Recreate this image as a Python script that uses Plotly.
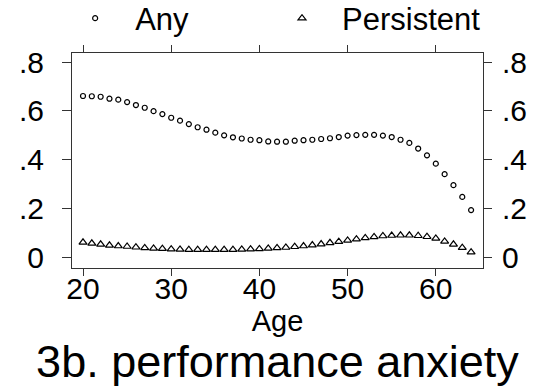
import plotly.graph_objects as go

# Age in years
ages = list(range(20, 65))

# Share reporting performance anxiety at each age
any_share = [
    0.661, 0.660, 0.658, 0.650, 0.646, 0.636, 0.624, 0.613, 0.599, 0.587,
    0.572, 0.560, 0.546, 0.533, 0.523, 0.511, 0.500, 0.492, 0.487, 0.482,
    0.480, 0.475, 0.474, 0.474, 0.478, 0.480, 0.482, 0.485, 0.488, 0.493,
    0.499, 0.501, 0.502, 0.502, 0.499, 0.493, 0.482, 0.469, 0.446, 0.418,
    0.384, 0.341, 0.296, 0.248, 0.194,
]
persistent_share = [
    0.062, 0.058, 0.054, 0.050, 0.047, 0.045, 0.042, 0.039, 0.037, 0.036,
    0.034, 0.033, 0.032, 0.032, 0.032, 0.032, 0.032, 0.032, 0.033, 0.034,
    0.035, 0.037, 0.039, 0.041, 0.044, 0.047, 0.051, 0.055, 0.060, 0.065,
    0.070, 0.075, 0.080, 0.084, 0.088, 0.090, 0.091, 0.091, 0.089, 0.085,
    0.078, 0.066, 0.054, 0.040, 0.022,
]

x_ticks = [20, 30, 40, 50, 60]
y_ticks = [0, 0.2, 0.4, 0.6, 0.8]
y_tick_labels = ["0", ".2", ".4", ".6", ".8"]

FONT = "Liberation Sans, Arial, sans-serif"
INK = "#000000"

fig = go.Figure()
fig.add_trace(go.Scatter(
    x=ages, y=any_share, name="Any", mode="markers", legend="legend",
    marker=dict(symbol="circle-open", size=5, color=INK, line=dict(width=1.2)),
))
fig.add_trace(go.Scatter(
    x=ages, y=persistent_share, name="Persistent", mode="markers", yaxis="y2",
    legend="legend2",
    marker=dict(symbol="triangle-up-open", size=7, color=INK, line=dict(width=1.2)),
))

y_range = [-0.043, 0.837]
axis_common = dict(
    showline=True, linecolor="#333333", linewidth=1,
    ticks="outside", tickcolor="#333333", tickwidth=1,
    showgrid=False, zeroline=False,
    tickfont=dict(family=FONT, size=30, color=INK),
)

legend_common = dict(
    orientation="h", xanchor="left", y=1.035, yanchor="bottom",
    font=dict(family=FONT, size=31, color=INK),
    itemwidth=70, itemsizing="trace", bgcolor="rgba(0,0,0,0)",
)

fig.update_layout(
    width=550, height=387,
    margin=dict(l=72, r=67, t=53, b=119, autoexpand=False),
    paper_bgcolor="white", plot_bgcolor="white",
    font=dict(family=FONT, color=INK),
    showlegend=True,
    legend=dict(**legend_common, x=-0.041),
    legend2=dict(**legend_common, x=0.4623),
    title=dict(
        text="3b. performance anxiety",
        font=dict(family=FONT, size=45, color=INK),
        x=0.5, xref="paper", xanchor="center",
        y=1 - 361 / 387, yref="container", yanchor="middle",
    ),
    xaxis=dict(
        **axis_common,
        range=[18.753, 65.35], tickvals=x_ticks, ticklen=7, mirror="ticks",
        ticklabelstandoff=-13,
        title=dict(text="Age", font=dict(family=FONT, size=29, color=INK), standoff=0),
    ),
    yaxis=dict(
        **axis_common,
        range=y_range, tickvals=y_ticks, ticktext=y_tick_labels,
        ticklen=9, ticklabelstandoff=12, mirror=True,
    ),
    yaxis2=dict(
        **axis_common,
        range=y_range, tickvals=y_ticks, ticktext=y_tick_labels,
        ticklen=8, ticklabelstandoff=4,
        overlaying="y", side="right", matches="y",
    ),
)

fig.write_html("out.html")
